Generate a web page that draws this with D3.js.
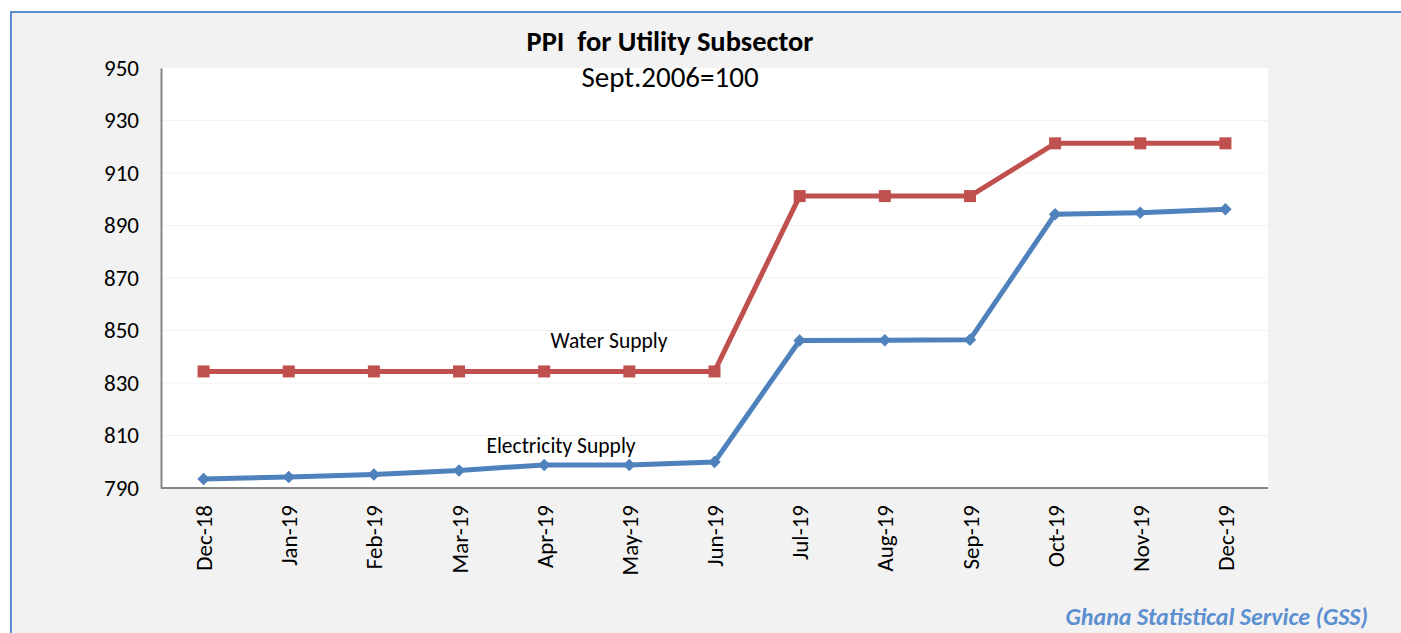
<!DOCTYPE html>
<html>
<head>
<meta charset="utf-8">
<script src="https://cdn.jsdelivr.net/npm/d3@7"></script>
<style>
  body { margin: 0; background: #fff; }
  svg { display: block; font-family: Carlito, Calibri, Lato, sans-serif; }
</style>
</head>
<body>
<svg id="chart" width="1401" height="633"></svg>
<script>
var months = ['Dec-18', 'Jan-19', 'Feb-19', 'Mar-19', 'Apr-19', 'May-19', 'Jun-19',
  'Jul-19', 'Aug-19', 'Sep-19', 'Oct-19', 'Nov-19', 'Dec-19']
var water = [834.4, 834.4, 834.4, 834.4, 834.4, 834.4, 834.4, 901.2, 901.2, 901.2, 921.3, 921.3, 921.3]
var electricity = [793.4, 794.2, 795.1, 796.7, 798.8, 798.8, 799.9, 846.2, 846.3, 846.5, 894.3, 894.9, 896.2]
var yTicks = [790, 810, 830, 850, 870, 890, 910, 930, 950]

var svg = d3.select('#chart')

// panel
svg.append('rect')
  .attr('x', 11).attr('y', 12).attr('width', 1400).attr('height', 630)
  .attr('fill', '#f2f2f2').attr('stroke', '#5b8fd0').attr('stroke-width', 2)

var plotL = 161, plotR = 1268, plotT = 68, plotB = 488

var x = d3.scalePoint().domain(months).range([plotL, plotR]).padding(0.5)
var y = d3.scaleLinear().domain([790, 950]).range([plotB, plotT])

svg.append('rect')
  .attr('x', plotL).attr('y', plotT).attr('width', plotR - plotL).attr('height', plotB - plotT)
  .attr('fill', '#fff')

// gridlines
svg.append('g').selectAll('line')
  .data(yTicks.slice(1, -1))
  .enter().append('line')
  .attr('x1', plotL).attr('x2', plotR)
  .attr('y1', function (d) { return y(d) }).attr('y2', function (d) { return y(d) })
  .attr('stroke', '#f2f2f2').attr('stroke-width', 1)

// y axis
var yAxis = svg.append('g')
  .attr('transform', 'translate(' + plotL + ',0)')
  .call(d3.axisLeft(y).tickValues(yTicks).tickSize(0).tickPadding(22))
yAxis.select('.domain').attr('stroke', '#868686').attr('stroke-width', 2)
yAxis.selectAll('text').attr('font-size', 23).attr('fill', '#000')
  .style('font-family', 'Carlito, Calibri, Lato, sans-serif')

// x axis
var xAxis = svg.append('g')
  .attr('transform', 'translate(0,' + plotB + ')')
  .call(d3.axisBottom(x).tickSize(0))
xAxis.select('.domain').attr('stroke', '#868686').attr('stroke-width', 2)
  .attr('d', 'M' + plotL + ',0H' + plotR)
xAxis.selectAll('text')
  .attr('font-size', 23).attr('fill', '#000')
  .style('font-family', 'Carlito, Calibri, Lato, sans-serif')
  .attr('transform', 'rotate(-90)')
  .attr('x', -17).attr('y', 0).attr('dy', '0.35em')
  .attr('text-anchor', 'end')

var line = d3.line()
  .x(function (d, i) { return x(months[i]) })
  .y(function (d) { return y(d) })

svg.append('path').datum(water)
  .attr('d', line).attr('fill', 'none')
  .attr('stroke', '#c0504d').attr('stroke-width', 5).attr('stroke-linejoin', 'round')
svg.append('path').datum(electricity)
  .attr('d', line).attr('fill', 'none')
  .attr('stroke', '#4f81bd').attr('stroke-width', 5).attr('stroke-linejoin', 'round')

svg.append('g').selectAll('rect')
  .data(water)
  .enter().append('rect')
  .attr('x', function (d, i) { return x(months[i]) - 6 })
  .attr('y', function (d) { return y(d) - 6 })
  .attr('width', 12).attr('height', 12)
  .attr('fill', '#c0504d')

svg.append('g').selectAll('path')
  .data(electricity)
  .enter().append('path')
  .attr('d', d3.symbol().type(d3.symbolDiamond2).size(100))
  .attr('transform', function (d, i) { return 'translate(' + x(months[i]) + ',' + y(d) + ')' })
  .attr('fill', '#4f81bd')

// series labels
svg.append('text').attr('x', 609).attr('y', 348)
  .attr('text-anchor', 'middle').attr('font-size', 21.5).text('Water Supply')
svg.append('text').attr('x', 561).attr('y', 453)
  .attr('text-anchor', 'middle').attr('font-size', 21.5).text('Electricity Supply')

// titles
svg.append('text').attr('x', 670).attr('y', 51)
  .attr('text-anchor', 'middle').attr('font-size', 28.5).attr('font-weight', 'bold')
  .style('white-space', 'pre').text('PPI  for Utility Subsector')
svg.append('text').attr('x', 670).attr('y', 87)
  .attr('text-anchor', 'middle').attr('font-size', 29).text('Sept.2006=100')

svg.append('text').attr('x', 1368).attr('y', 625)
  .attr('text-anchor', 'end').attr('font-size', 24).attr('font-weight', 'bold')
  .attr('font-style', 'italic').attr('fill', '#5b8fd0')
  .text('Ghana Statistical Service (GSS)')
</script>
</body>
</html>
